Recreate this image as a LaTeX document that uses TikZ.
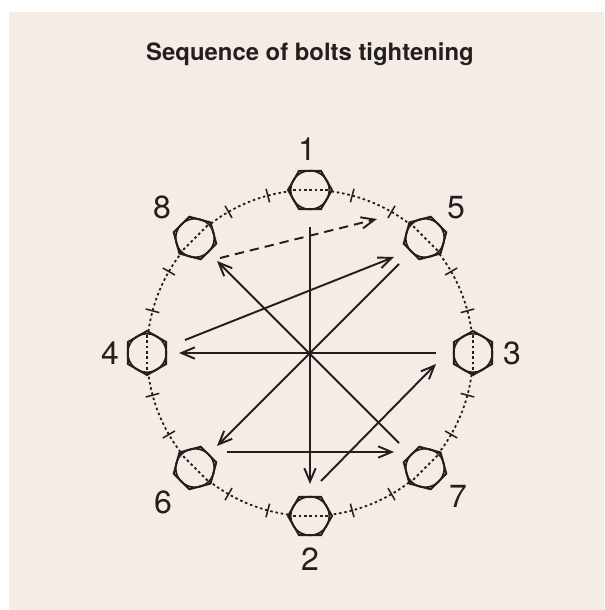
\documentclass[tikz,border=0pt]{standalone}
\usepackage{fontspec}
\setmainfont{TeX Gyre Heros}
\usetikzlibrary{arrows.meta,shapes.geometric}
\definecolor{paper}{HTML}{F5ECE5}
\definecolor{ink}{HTML}{231F20}
\tikzset{
  x=0.75pt,y=-0.75pt,
  hexbolt/.style={regular polygon,regular polygon sides=6,draw=ink,line width=1.5pt,minimum size=33pt,inner sep=0pt,outer sep=0pt},
  boltring/.style={circle,draw=ink,line width=1.3pt,minimum size=29pt,inner sep=0pt,outer sep=0pt},
  digit/.style={text=ink,font=\fontsize{24}{24}\selectfont,inner sep=0pt},
  heading/.style={text=ink,font=\bfseries\fontsize{17.9}{20}\selectfont,inner sep=0pt},
  seq/.style={draw=ink,line width=1.45pt,-{Straight Barb[length=10pt,width=8.5pt,line width=1.45pt]}},
  seqdash/.style={seq,dash pattern=on 7pt off 4.5pt},
  dots/.style={draw=ink,line width=1.35pt,dash pattern=on 1.9pt off 2.1pt},
  tick/.style={draw=ink,line width=1.15pt}
}
\begin{document}
\begin{tikzpicture}
\useasboundingbox (0,0) rectangle (604,610);
\fill[paper] (9,12) rectangle (604,610);
\coordinate (c) at (310,353);
\def\R{163}
\node[heading] (title) at (310,54) {Sequence of bolts tightening};
% dotted ring between the bolts, with ticks every 15 degrees
\foreach \a in {0,45,...,315}{
  \draw[dots] (c) ++(\a+7.6:\R) arc[start angle=\a+7.6,end angle=\a+37.4,radius=\R];
  \foreach \t in {15,30}{
    \draw[tick] (c) ++(\a+\t:\R-7) -- ++(\a+\t:14);
  }
}
% bolts: number, centre, rotation
\foreach \n/\x/\y/\r in {1/310/190/0,2/310/516/0,3/473/353/90,4/147/353/90,5/425/238/-45,6/195/468/-45,7/425/468/45,8/195/238/45}{
  \node[hexbolt,rotate=\r] (b\n) at (\x,\y) {};
  \node[boltring] (r\n) at (\x,\y) {};
  \draw[dots] (b\n.corner 3) -- (b\n.corner 6);
}
% labels
\node[digit] (l1) at (307,149) {1};
\node[digit] (l2) at (310,559) {2};
\node[digit] (l3) at (512,353) {3};
\node[digit] (l4) at (110,353) {4};
\node[digit] (l5) at (456,208) {5};
\node[digit] (l6) at (163,502) {6};
\node[digit] (l7) at (458,496) {7};
\node[digit] (l8) at (162,207) {8};
% arrow ends
\coordinate (s12) at (310,227); \coordinate (e12) at (310,484);
\coordinate (s23) at (321,481); \coordinate (e23) at (436,364);
\coordinate (s34) at (436,353); \coordinate (e34) at (179,353);
\coordinate (s45) at (185,340); \coordinate (e45) at (394,257);
\coordinate (s56) at (399,264); \coordinate (e56) at (217,446);
\coordinate (s67) at (227,452); \coordinate (e67) at (394,452);
\coordinate (s78) at (399,443); \coordinate (e78) at (217,261);
\coordinate (s81) at (220,258); \coordinate (e81) at (377,219);
\draw[seq] (s12) -- (e12);
\draw[seq] (s23) -- (e23);
\draw[seq] (s34) -- (e34);
\draw[seq] (s45) -- (e45);
\draw[seq] (s56) -- (e56);
\draw[seq] (s67) -- (e67);
\draw[seq] (s78) -- (e78);
\draw[seqdash] (s81) -- (e81);
\end{tikzpicture}
\end{document}
